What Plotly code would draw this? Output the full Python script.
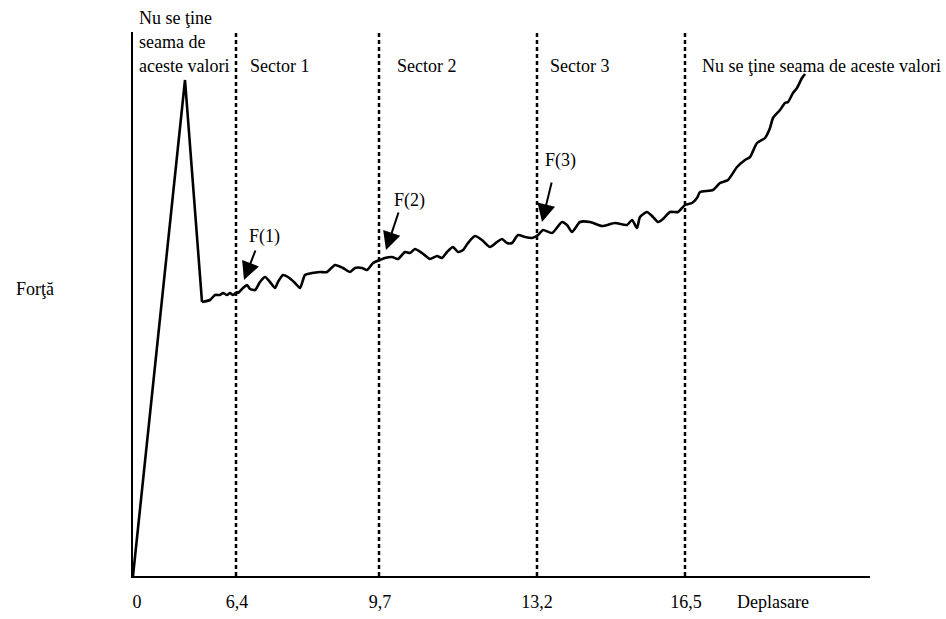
import plotly.graph_objects as go

# Curve (x: position along axis, y: force, arbitrary units)
curve_x = [0, 5.2, 6.9, 7.7, 8.2, 8.7, 9.0, 9.4, 9.7, 10.0, 10.4, 10.5, 11.0, 11.4, 11.7, 12.2,
           12.7, 13.2, 13.7, 14.2, 14.5, 15.0, 15.5, 16.2, 16.7, 17.2, 17.9, 18.7, 19.4, 20.2,
           21.0, 21.7, 22.2, 22.9, 23.4, 24.0, 24.7, 25.2, 25.9, 26.5, 27.2, 27.7, 28.2, 28.9,
           29.7, 30.4, 30.9, 31.4, 32.0, 32.5, 33.0, 33.5, 34.2, 34.9, 35.7, 36.4, 36.9, 37.4,
           37.9, 38.5, 39.2, 39.9, 40.5, 41.0, 41.9, 42.9, 43.4, 43.9, 44.7, 45.7, 46.9, 48.2,
           49.4, 49.9, 50.4, 50.7, 51.4, 52.0, 52.5, 53.0, 53.7, 54.5, 55.2, 55.9, 56.4, 56.7,
           58.0, 58.7, 59.5, 60.4, 61.2, 61.7, 62.4, 63.2, 63.7, 64.0, 64.7, 65.2, 65.5, 66.0,
           66.4, 66.9, 67.2]
curve_y = [0, 49.6, 27.4, 27.6, 28.1, 28.1, 28.3, 28.1, 28.3, 28.1, 28.4, 28.3, 28.8, 29.1, 28.7, 28.6,
           29.4, 29.9, 29.4, 28.8, 29.4, 30.1, 29.9, 29.3, 28.8, 30.1, 30.3, 30.4, 30.4, 31.1,
           30.8, 30.4, 30.8, 30.8, 30.6, 31.3, 31.6, 31.8, 31.9, 31.7, 32.4, 32.3, 32.7, 32.3,
           31.7, 32.0, 31.8, 32.4, 32.9, 32.4, 32.6, 33.3, 34.0, 33.6, 32.9, 33.4, 33.7, 33.3,
           33.3, 34.1, 33.9, 33.8, 34.1, 34.6, 34.3, 35.4, 35.1, 34.4, 35.4, 35.4, 35.0, 35.3,
           35.1, 35.6, 34.8, 35.9, 36.4, 35.9, 35.4, 35.7, 36.4, 36.4, 37.1, 37.3, 37.8, 38.4,
           38.6, 39.3, 39.6, 40.9, 41.6, 41.9, 43.3, 43.8, 44.8, 45.8, 46.6, 47.3, 47.4, 48.3,
           48.8, 49.8, 50.2]
N_SHARP = 3  # origin, peak and drop are straight segments

# Sector boundaries and tick labels
boundary_x = [10.3, 24.6, 40.4, 55.2]
tick_pos = [0.4, 10.4, 24.7, 40.4, 55.3]
tick_text = ["0", "6,4", "9,7", "13,2", "16,5"]

# Region labels
sector_labels = ["Sector 1", "Sector 2", "Sector 3", "Nu se ţine seama de aceste valori"]
sector_label_x = [11.5, 26.2, 41.5, 56.7]
left_label_lines = ["Nu se ţine", "seama de", "aceste valori"]
left_label_y = [55.8, 53.4, 51.0]

# Arrows F(i): text position, arrow tail, arrow head
f_labels = ["F(1)", "F(2)", "F(3)"]
f_text_x = [13.1, 27.6, 42.7]
f_text_y = [34.0, 37.6, 41.6]
f_tail_x = [12.3, 26.6, 41.9]
f_tail_y = [32.7, 36.5, 39.5]
f_head_x = [11.1, 25.3, 40.9]
f_head_y = [29.6, 32.6, 35.4]

X_MAX, Y_MAX = 73.7, 54.4
FONT = "Liberation Serif"

fig = go.Figure()
fig.add_trace(go.Scatter(x=curve_x[:N_SHARP], y=curve_y[:N_SHARP], mode="lines",
                         line=dict(color="black", width=2.6),
                         showlegend=False, hoverinfo="skip"))
fig.add_trace(go.Scatter(x=curve_x[N_SHARP - 1:], y=curve_y[N_SHARP - 1:], mode="lines",
                         line=dict(color="black", width=2.6, shape="spline", smoothing=0.6),
                         showlegend=False, hoverinfo="skip"))

shapes = []
for bx in boundary_x:
    shapes.append(dict(type="line", xref="x", yref="y", x0=bx, x1=bx, y0=0, y1=Y_MAX,
                       line=dict(color="black", width=2.5, dash="4px,3px")))

ann = []
for t, x in zip(sector_labels, sector_label_x):
    ann.append(dict(x=x, y=51.0, xref="x", yref="y", text=t, showarrow=False,
                    xanchor="left", yanchor="middle", font=dict(size=18)))
for t, y in zip(left_label_lines, left_label_y):
    ann.append(dict(x=0.4 / X_MAX, y=y / Y_MAX, xref="paper", yref="paper", text=t,
                    showarrow=False, xanchor="left", yanchor="middle", font=dict(size=18)))
for t, tx, ty, ax, ay, hx, hy in zip(f_labels, f_text_x, f_text_y, f_tail_x, f_tail_y,
                                     f_head_x, f_head_y):
    ann.append(dict(x=tx, y=ty, xref="x", yref="y", text=t, showarrow=False,
                    xanchor="center", yanchor="middle", font=dict(size=18)))
    ann.append(dict(x=hx, y=hy, ax=ax, ay=ay, xref="x", yref="y", axref="x", ayref="y",
                    text="", showarrow=True, arrowhead=2, arrowsize=1.8, arrowwidth=2,
                    arrowcolor="black"))
ann.append(dict(x=60.2 / X_MAX, y=-2.6 / Y_MAX, xref="paper", yref="paper", text="Deplasare",
                showarrow=False, xanchor="left", yanchor="middle", font=dict(size=18)))
ann.append(dict(x=-11.9 / X_MAX, y=28.7 / Y_MAX, xref="paper", yref="paper", text="Forţă",
                showarrow=False, xanchor="left", yanchor="middle", font=dict(size=18)))

fig.update_layout(
    width=946, height=619,
    margin=dict(l=133, r=76, t=32, b=43, pad=0),
    paper_bgcolor="white", plot_bgcolor="white",
    font=dict(family=FONT, color="black", size=18),
    shapes=shapes, annotations=ann,
    xaxis=dict(range=[0, X_MAX], showgrid=False, zeroline=False, showline=True,
               linecolor="black", linewidth=2, tickvals=tick_pos, ticktext=tick_text,
               ticks="", ticklabelstandoff=8, tickfont=dict(size=18), automargin=False),
    yaxis=dict(range=[0, Y_MAX], showgrid=False, zeroline=False, showline=True,
               linecolor="black", linewidth=2, showticklabels=False, ticks="",
               automargin=False),
)

fig.write_html("out.html")
